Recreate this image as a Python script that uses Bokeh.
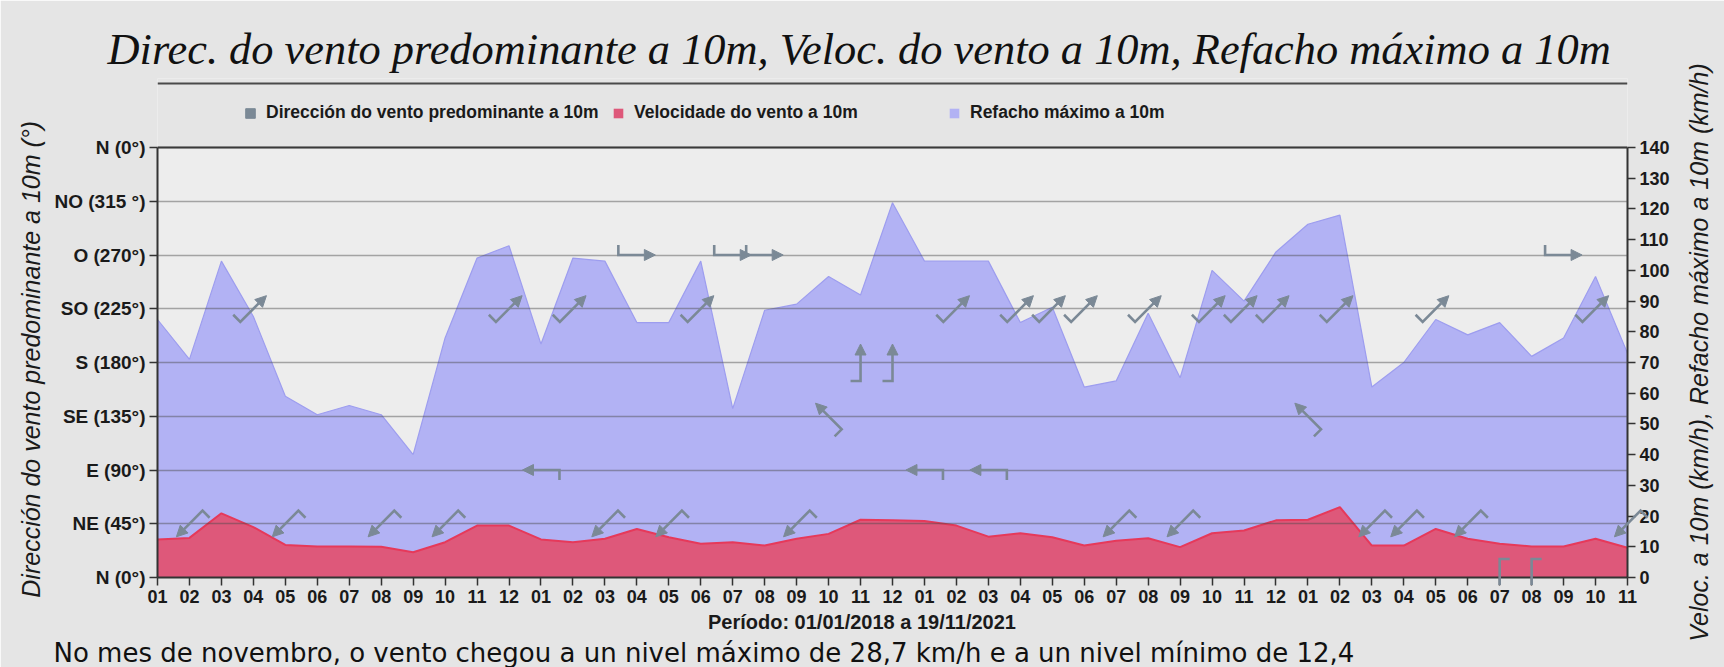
import math
from bokeh.plotting import figure
from bokeh.models import (Range1d, LinearAxis, FixedTicker, Title, Span, BoxAnnotation,
                          Legend, LegendItem, Label)
from bokeh.embed import file_html
from bokeh.resources import INLINE

# ---------------- data ----------------
month_labels = ["01", "02", "03", "04", "05", "06", "07", "08", "09", "10", "11", "12",
                "01", "02", "03", "04", "05", "06", "07", "08", "09", "10", "11", "12",
                "01", "02", "03", "04", "05", "06", "07", "08", "09", "10", "11", "12",
                "01", "02", "03", "04", "05", "06", "07", "08", "09", "10", "11"]

gust_kmh = [84, 71, 103, 85, 59, 53, 56, 53, 40, 78, 104, 108,
            76, 104, 103, 83, 83, 103, 55, 87, 89, 98, 92, 122,
            103, 103, 103, 83, 88, 62, 64, 86, 65, 100, 90, 106,
            115, 118, 62, 70, 84, 79, 83, 72, 78, 98, 73]

speed_kmh = [12.4, 12.9, 20.9, 16.4, 10.6, 10.1, 10.1, 10.0, 8.2, 11.5, 16.9, 16.9,
             12.4, 11.5, 12.6, 15.8, 13.1, 11.0, 11.5, 10.4, 12.6, 14.2, 18.8, 18.6,
             18.4, 16.9, 13.3, 14.4, 13.1, 10.4, 12.0, 12.8, 9.9, 14.4, 15.3, 18.6,
             18.8, 22.9, 10.4, 10.4, 15.8, 12.6, 11.0, 10.1, 10.1, 12.6, 9.7]

# predominant direction (degrees the wind comes from); None = no arrow shown
direction_deg = [None, 45, None, 225, 45, None, None, 45, None, 45, None, 225,
                 90, 225, 45, 270, 45, 225, 270, 270, 45, 135, 180, 180,
                 90, 225, 90, 225, 225, 225, 45, 225, 45, 225, 225, 225,
                 135, 225, 45, 45, 225, 45, 0, 0, 270, 225, 45]

dir_ticks = [0, 45, 90, 135, 180, 225, 270, 315, 360]
dir_tick_labels = ["N (0°)", "NE (45°)", "E (90°)", "SE (135°)", "S (180°)",
                   "SO (225°)", "O (270°)", "NO (315 °)", "N (0°)"]
speed_ticks = [0, 10, 20, 30, 40, 50, 60, 70, 80, 90, 100, 110, 120, 130, 140]

title_text = "Direc. do vento predominante a 10m, Veloc. do vento a 10m, Refacho máximo a 10m"
legend_labels = ["Dirección do vento predominante a 10m", "Velocidade do vento a 10m",
                 "Refacho máximo a 10m"]
left_axis_title = "Dirección do vento predominante a 10m (°)"
right_axis_title = "Veloc. a 10m (km/h), Refacho máximo a 10m (km/h)"
period_text = "Período: 01/01/2018 a 19/11/2021"
footer_text = "No mes de novembro, o vento chegou a un nivel máximo de  28,7  km/h e a un nivel mínimo de 12,4"

# ---------------- layout (pixels) ----------------
W, H = 1724, 667
FRAME_LEFT, FRAME_RIGHT = 157, 1627
FRAME_TOP, FRAME_BOTTOM = 78, 577          # drawing area of the figure
CHART_TOP = 147                            # where 360 deg / 140 km/h sit
RULE_Y = 83                                # rule under the title
LEGEND_CY = 113                            # legend centre line
LEGEND_X = [244, 612, 948]                 # left edge of each legend swatch
RIGHT_AXIS_W = 42                          # ticks + tick labels of the right axis
RIGHT_TITLE_X, RIGHT_TITLE_Y = 1695, 352   # centre of the right axis title

BG = "#e5e5e5"
PLOT_BG = "#ededed"
AX_FONT = "Liberation Sans"
DARK = "#1a1a1a"
NBSP = "\u00a0"

PXY = (FRAME_BOTTOM - CHART_TOP) / 360.0
PXK = (FRAME_BOTTOM - CHART_TOP) / 140.0
dir_end = 360 + (CHART_TOP - FRAME_TOP) / PXY
kmh_end = 140 + (CHART_TOP - FRAME_TOP) / PXK

x = list(range(len(month_labels)))
PXX = (FRAME_RIGHT - FRAME_LEFT) / (len(month_labels) - 1)

p = figure(width=W, height=H, output_backend="svg", toolbar_location=None,
           x_range=Range1d(0, len(month_labels) - 1), y_range=Range1d(0, dir_end),
           min_border_left=FRAME_LEFT, min_border_right=W - FRAME_RIGHT,
           min_border_top=FRAME_TOP, min_border_bottom=H - FRAME_BOTTOM,
           background_fill_color=BG, border_fill_color=BG, outline_line_color=None)
p.extra_y_ranges = {"kmh": Range1d(0, kmh_end)}

# chart background and top border
p.add_layout(BoxAnnotation(bottom=0, top=360, fill_color=PLOT_BG, fill_alpha=1,
                           line_alpha=0, level="underlay"))
p.add_layout(Span(location=360, dimension="width", line_color="#3a3a3a", line_width=2))
# rule under the title
p.add_layout(Span(location=360 + (CHART_TOP - RULE_Y) / PXY, dimension="width",
                  line_color="#4a4a4a", line_width=2))

blue = p.varea(x=x, y1=0, y2=gust_kmh, fill_color="#b2b2f4", y_range_name="kmh")
p.line(x, gust_kmh, line_color="#9d9def", line_width=1.2, y_range_name="kmh")
red = p.varea(x=x, y1=0, y2=speed_kmh, fill_color="#de587a", y_range_name="kmh")
p.line(x, speed_kmh, line_color="#e6395a", line_width=2, y_range_name="kmh")

p.xgrid.visible = False
p.ygrid.ticker = FixedTicker(ticks=dir_ticks)
p.ygrid.grid_line_color = "#4a4a4a"
p.ygrid.grid_line_alpha = 0.45
p.ygrid.grid_line_width = 1.5
p.ygrid.level = "annotation"

# wind arrows (pointing downwind), centred on (month, direction)
L, HEAD, HW, HOOK = 37.0, 11.0, 5.5, 10.0
shaft_xs, shaft_ys, head_xs, head_ys = [], [], [], []
for i, d in enumerate(direction_deg):
    if d is None:
        continue
    b = math.radians(d + 180)
    ux, uy = math.sin(b), math.cos(b)
    qx, qy = -uy, ux

    def pt(ax, ay, i=i, d=d):
        return i + ax / PXX, d + ay / PXY

    tail = (-ux * L / 2, -uy * L / 2)
    tip = (ux * L / 2, uy * L / 2)
    base = (tip[0] - ux * HEAD, tip[1] - uy * HEAD)
    hook = (tail[0] + qx * HOOK, tail[1] + qy * HOOK)
    pts = [pt(*hook), pt(*tail), pt(*base)]
    shaft_xs.append([a for a, _ in pts])
    shaft_ys.append([c for _, c in pts])
    tri = [pt(*tip), pt(base[0] + qx * HW, base[1] + qy * HW),
           pt(base[0] - qx * HW, base[1] - qy * HW)]
    head_xs.append([a for a, _ in tri])
    head_ys.append([c for _, c in tri])

ARROW = "#7b8996"
p.multi_line(shaft_xs, shaft_ys, line_color=ARROW, line_width=2.6,
             line_join="miter", level="overlay")
heads = p.patches(head_xs, head_ys, fill_color=ARROW, line_color=ARROW,
                  line_width=1, level="overlay")

# left axis (direction); trailing no-break spaces re-centre the label on the chart
ya = p.yaxis[0]
ya.ticker = FixedTicker(ticks=dir_ticks)
ya.bounds = (0, 360)
ya.major_label_overrides = {t: lab for t, lab in zip(dir_ticks, dir_tick_labels)}
ya.axis_label = left_axis_title + NBSP * 9
ya.axis_label_text_font = AX_FONT
ya.axis_label_text_font_style = "italic"
ya.axis_label_text_font_size = "25px"
ya.axis_label_text_color = DARK
ya.axis_label_standoff = 6
ya.major_label_text_font_size = "19px"

# right axis (km/h)
ra = LinearAxis(y_range_name="kmh", ticker=FixedTicker(ticks=speed_ticks), bounds=(0, 140))
ra.major_label_text_font_size = "18px"
p.add_layout(ra, "right")

# right axis title, reading upwards, placed in the right-hand panel
p.add_layout(Label(x=RIGHT_TITLE_X - FRAME_RIGHT - RIGHT_AXIS_W,
                   y=FRAME_BOTTOM - RIGHT_TITLE_Y,
                   x_units="screen", y_units="screen", text=right_axis_title,
                   angle=math.pi / 2, text_font=AX_FONT, text_font_style="italic",
                   text_font_size="25px", text_color=DARK,
                   text_align="center", text_baseline="middle"), "right")

# bottom axis (months)
xa = p.xaxis[0]
xa.ticker = FixedTicker(ticks=x)
xa.major_label_overrides = {i: lab for i, lab in zip(x, month_labels)}
xa.major_label_text_font_size = "18px"
xa.axis_label = period_text + NBSP * 11
xa.axis_label_text_font = AX_FONT
xa.axis_label_text_font_style = "bold"
xa.axis_label_text_font_size = "20px"
xa.axis_label_text_color = DARK
xa.axis_label_standoff = 5

for ax in (ya, ra, xa):
    ax.major_label_text_font = AX_FONT
    ax.major_label_text_font_style = "bold"
    ax.major_label_text_color = DARK
    ax.major_label_standoff = 4
    ax.axis_line_color = "#333333"
    ax.axis_line_width = 2
    ax.major_tick_line_color = "#333333"
    ax.major_tick_line_width = 1.5
    ax.major_tick_in = 0
    ax.major_tick_out = 8
    ax.minor_tick_line_color = None

# legend entries (inside the drawing area, above the chart)
for lab, rend, lx in zip(legend_labels, [heads, red, blue], LEGEND_X):
    lg = Legend(items=[LegendItem(label=lab, renderers=[rend])],
                orientation="horizontal",
                location=(lx - FRAME_LEFT, FRAME_BOTTOM - LEGEND_CY - 10),
                label_text_font=AX_FONT, label_text_font_style="bold",
                label_text_font_size="17.5px", label_text_color=DARK,
                glyph_width=12, glyph_height=12, label_height=20,
                label_standoff=10, padding=0, margin=0,
                background_fill_alpha=0, border_line_alpha=0)
    p.add_layout(lg, "center")

# main title
p.title.text = title_text
p.title.align = "left"
p.title.offset = 107 - FRAME_LEFT
p.title.text_font = "Liberation Serif"
p.title.text_font_style = "italic"
p.title.text_font_size = "44.4px"
p.title.text_color = "#111111"
p.title.standoff = 9

# footer line of the page
footer = Title(text=footer_text, align="left", offset=53 - FRAME_LEFT,
               text_font="DejaVu Sans", text_font_style="normal",
               text_font_size="26px", text_color="#111111", standoff=0)
p.add_layout(footer, "below")

open("out.html", "w").write(file_html(p, INLINE))
